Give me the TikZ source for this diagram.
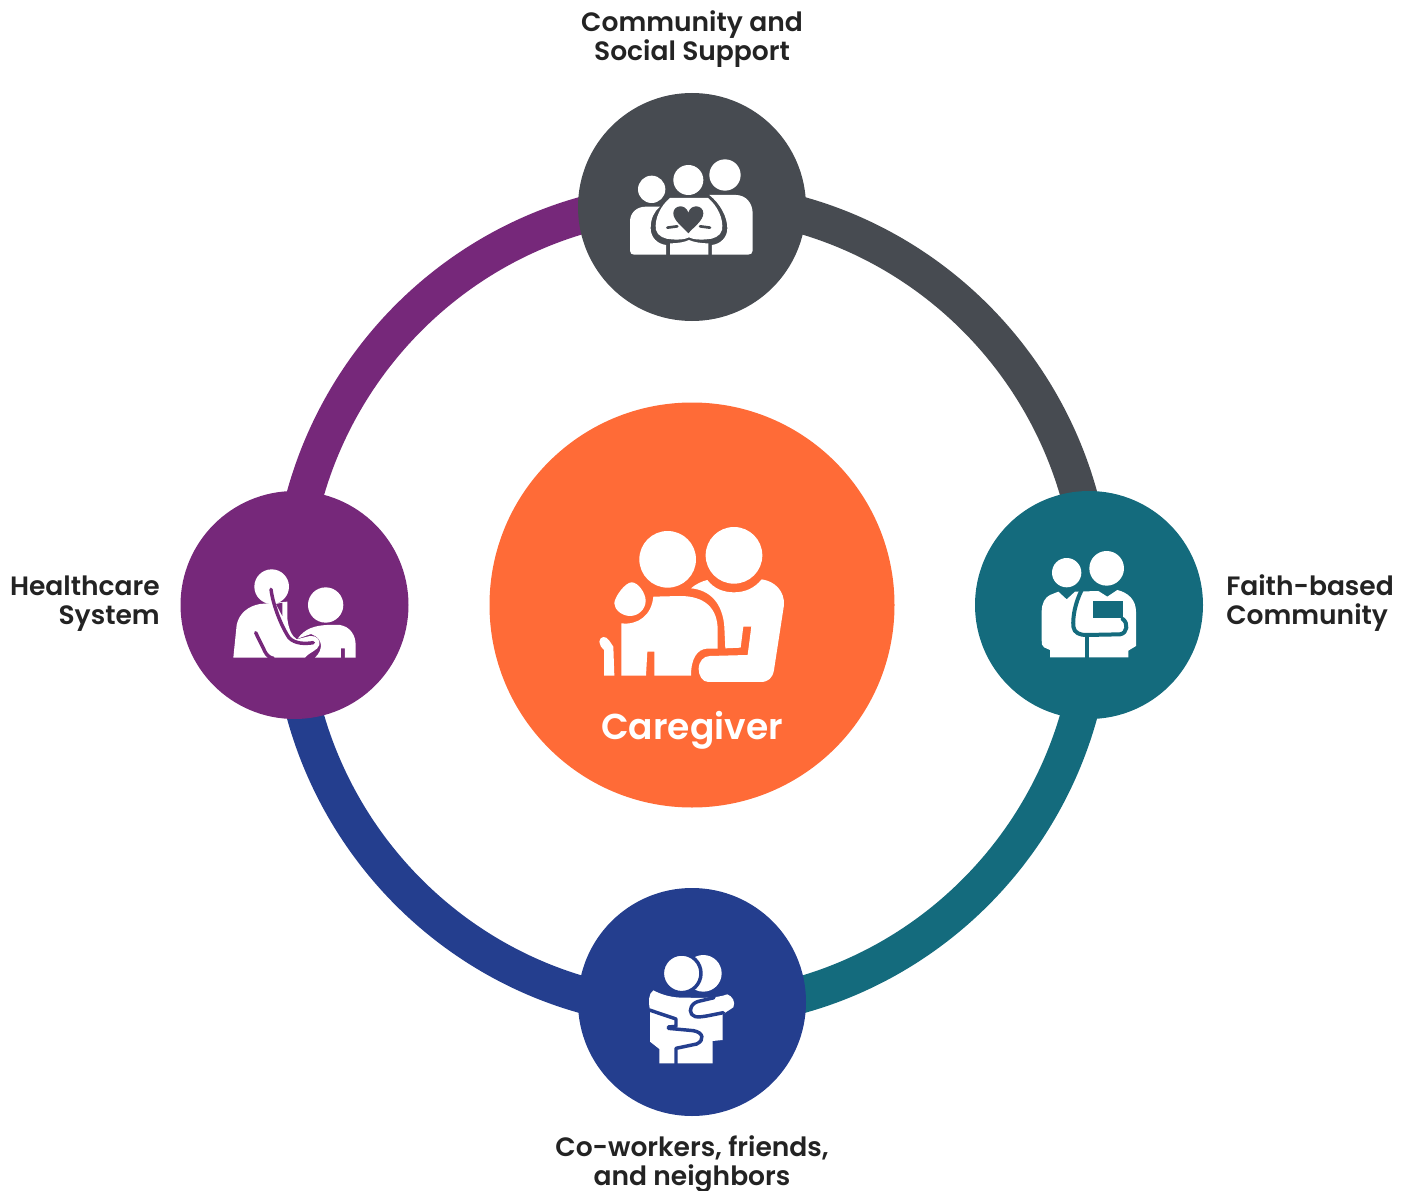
\documentclass[tikz,border=0pt]{standalone}
\usepackage{fontspec}
\setmainfont{Poppins}[BoldFont={Poppins SemiBold}]
\usepackage{tikz}
\usetikzlibrary{backgrounds}

\definecolor{cgorange}{RGB}{255,107,55}
\definecolor{ringgray}{RGB}{71,75,81}
\definecolor{ringteal}{RGB}{20,107,125}
\definecolor{ringblue}{RGB}{36,62,142}
\definecolor{ringpurple}{RGB}{118,40,122}
\definecolor{labelink}{RGB}{35,35,35}

\tikzset{
  hubnode/.style={circle,minimum size=171pt,inner sep=0pt},
  ringarc/.style={line width=27.5pt},
  iconfill/.style={fill=white,draw=none},
  iconcut/.style={line width=3pt,line cap=round,line join=round},
  sidelabel/.style={font=\fontsize{19.9}{21.75}\selectfont\bfseries,text=labelink,inner sep=0pt},
}

\begin{document}
\begin{tikzpicture}[x=0.75pt,y=0.75pt,yscale=-1,xscale=1]
        \useasboundingbox (0,0) rectangle (1406,1191);

        %Shape: Circle
        \node [circle,minimum size=303.75pt,inner sep=0pt,fill=cgorange] (caregiver) at (692,605) {};
        \node [hubnode,fill=ringgray] (community) at (692,207) {};
        \node [hubnode,fill=ringteal] (faith) at (1089,605) {};
        \node [hubnode,fill=ringblue] (coworkers) at (692,1002) {};
        \node [hubnode,fill=ringpurple] (healthcare) at (294.5,605) {};

        %Arcs
        \begin{scope}[on background layer]
        \draw [ringarc,color=ringgray] (caregiver.center) ++(0,-405) arc [start angle=-90,end angle=0,x radius=402,y radius=405];
        \draw [ringarc,color=ringteal] (caregiver.center) ++(402,0) arc [start angle=0,end angle=90,x radius=402,y radius=405];
        \draw [ringarc,color=ringblue] (caregiver.center) ++(0,405) arc [start angle=90,end angle=180,x radius=402,y radius=405];
        \draw [ringarc,color=ringpurple] (caregiver.center) ++(-402,0) arc [start angle=180,end angle=270,x radius=402,y radius=405];
        \end{scope}

        %Icon: two people, caregiver
        \begin{scope}[shift={(590,510)},scale=0.3333]
        \fill [iconfill] (233,148) circle [radius=85];
        \fill [iconfill] (432,136) circle [radius=85];
        \fill [iconfill] (303,235) .. controls (318,222) and (335,214) .. (352,210) .. controls (372,236) and (400,247) .. (432,247) .. controls (466,247) and (494,234) .. (515,208) .. controls (556,214) and (584,244) .. (582,285) -- (552,480) .. controls (548,504) and (535,516) .. (512,516) -- (355,516) .. controls (336,516) and (326,495) .. (326,477) .. controls (326,455) and (340,438) .. (360,438) -- (473,435) -- (484,350) -- (460,350) -- (452,413) -- (406,415) -- (403,350) .. controls (398,280) and (360,240) .. (303,235) -- cycle;
        \fill [iconfill] (94,340) .. controls (145,346) and (185,315) .. (190,260) -- (270,258) .. controls (345,258) and (383,295) .. (383,360) -- (383,416) -- (350,416) .. controls (322,418) and (303,445) .. (303,497) -- (193,497) -- (193,425) -- (172,425) -- (168,497) -- (94,497) -- cycle;
        \fill [iconfill] (125,217) .. controls (145,217) and (167,250) .. (167,272) .. controls (167,298) and (145,318) .. (120,318) .. controls (95,318) and (73,298) .. (73,280) .. controls (73,262) and (105,217) .. (125,217) -- cycle;
        \fill [iconfill] (28,395) .. controls (30,378) and (48,376) .. (58,392) -- (70,410) -- (73,497) -- (42,497) -- (42,420) .. controls (34,412) and (28,405) .. (28,395) -- cycle;
        \end{scope}

        %Icon: family with heart
        \begin{scope}[shift={(620,150)},scale=0.3333]
        \fill [iconfill] (95,118) circle [radius=41];
        \fill [iconfill] (205,90) circle [radius=45];
        \fill [iconfill] (315,75) circle [radius=47];
        \fill [iconfill] (30,302) -- (30,215) .. controls (30,188) and (50,170) .. (78,170) -- (120,170) .. controls (102,185) and (92,205) .. (92,235) .. controls (92,262) and (112,282) .. (138,285) -- (138,314) -- (42,314) .. controls (35,314) and (30,310) .. (30,302) -- cycle;
        \fill [iconfill] (268,135) -- (348,135) .. controls (378,135) and (398,160) .. (398,190) -- (398,302) .. controls (398,310) and (392,314) .. (384,314) -- (276,314) -- (276,285) .. controls (302,282) and (322,262) .. (322,235) .. controls (322,200) and (300,160) .. (268,135) -- cycle;
        \fill [iconfill] (150,144) -- (264,144) .. controls (290,165) and (312,205) .. (306,240) .. controls (302,258) and (280,268) .. (259,268) .. controls (235,270) and (219,268) .. (207,262) .. controls (195,268) and (179,270) .. (155,268) .. controls (135,268) and (112,258) .. (108,240) .. controls (102,205) and (124,165) .. (150,144) -- cycle;
        \fill [iconfill] (150,280) .. controls (175,280) and (195,276) .. (207,270) .. controls (220,276) and (240,280) .. (265,280) -- (265,314) -- (150,314) -- cycle;
        \fill [fill=ringgray] (205,250) .. controls (190,232) and (160,212) .. (160,190) .. controls (160,165) and (197,160) .. (205,188) .. controls (213,160) and (250,165) .. (250,190) .. controls (250,212) and (220,232) .. (205,250) -- cycle;
        \draw [iconcut,ringgray,line width=2pt] (142,233) -- (172,229);
        \draw [iconcut,ringgray,line width=2pt] (240,229) -- (270,233);
        \end{scope}

        %Icon: two people with book
        \begin{scope}[shift={(1030,540)},scale=0.3333]
        \fill [iconfill] (110,98) circle [radius=44];
        \fill [iconfill] (230,85) circle [radius=52];
        \fill [iconfill] (60,165) -- (85,155) -- (110,178) -- (135,155) -- (205,153) -- (232,170) -- (262,150) .. controls (295,158) and (318,180) .. (318,215) -- (318,318) -- (295,332) -- (295,352) -- (60,352) -- (60,330) -- (42,322) .. controls (35,318) and (35,310) .. (35,300) -- (35,215) .. controls (35,190) and (45,172) .. (60,165) -- cycle;
        \draw [iconcut,ringteal] (155,150) .. controls (135,190) and (128,230) .. (130,260) .. controls (132,278) and (150,286) .. (170,285) -- (270,283) .. controls (292,280) and (296,250) .. (278,237);
        \draw [iconcut,ringteal,line cap=butt] (170,285) -- (170,354);
        \fill [fill=ringteal] (190,183) rectangle (278,235);
        \end{scope}

        %Icon: two people hugging
        \begin{scope}[shift={(640,945)},scale=0.3333]
        \fill [iconfill] (190,85) circle [radius=55];
        \fill [iconfill] (40,136) .. controls (70,152) and (100,158) .. (130,158) .. controls (170,158) and (225,162) .. (262,148) .. controls (276,153) and (288,170) .. (280,187) -- (248,208) -- (248,285) -- (218,288) -- (218,355) -- (58,355) -- (58,312) -- (30,290) -- (30,195) .. controls (25,170) and (25,146) .. (40,136) -- cycle;
        \draw [iconcut,ringblue,line width=2.6pt] (222,158) -- (180,168) .. controls (155,172) and (145,195) .. (155,208) .. controls (165,222) and (190,215) .. (250,203);
        \draw [iconcut,ringblue,line width=2.6pt] (28,195) -- (108,222) -- (108,244) -- (85,246);
        \draw [iconcut,ringblue,line width=2.6pt] (85,250) -- (160,257) .. controls (190,262) and (195,285) .. (170,297) -- (108,310) -- (108,357);
        \draw [line width=2.6pt,ringblue,fill=white] (125,85) circle [radius=58];
        \end{scope}

        %Icon: doctor and patient
        \begin{scope}[shift={(225,560)},scale=0.3333]
        \fill [iconfill] (140,80) circle [radius=52];
        \fill [iconfill] (302,135) circle [radius=53];
        \fill [iconfill] (25,293) -- (35,195) .. controls (42,160) and (70,138) .. (105,132) -- (187,125) -- (187,175) .. controls (190,205) and (200,228) .. (215,238) -- (255,228) .. controls (275,226) and (287,240) .. (283,255) .. controls (278,272) and (255,275) .. (240,293) -- cycle;
        \fill [iconfill] (218,236) .. controls (240,205) and (270,197) .. (305,195) -- (345,195) .. controls (375,200) and (392,225) .. (392,255) -- (392,293) -- (360,293) -- (360,265) -- (348,265) -- (348,293) -- (270,293) .. controls (295,270) and (296,235) .. (258,222) -- cycle;
        \fill [fill=ringpurple] (153,132) -- (172,128) -- (172,168) -- cycle;
        \draw [iconcut,ringpurple,line width=2.6pt] (138,88) .. controls (145,140) and (170,200) .. (192,233) .. controls (210,252) and (240,252) .. (265,248);
        \draw [iconcut,ringpurple,line width=2.6pt] (92,218) -- (120,275) .. controls (126,287) and (134,293) .. (145,295);
        \end{scope}

        % Text Node
        \node [sidelabel,align=center] (communitytext) at (692,39) {Community and\\Social Support};
        % Text Node
        \node [sidelabel,align=left,anchor=west] (faithtext) at (1226,603.5) {Faith-based\\Community};
        % Text Node
        \node [sidelabel,align=center] (coworkerstext) at (692,1164) {Co-workers, friends,\\and neighbors};
        % Text Node
        \node [sidelabel,align=right,anchor=east] (healthcaretext) at (160,603.5) {Healthcare\\System};
        % Text Node
        \node [font=\fontsize{27}{30}\selectfont\bfseries,text=white,inner sep=0pt] (caregivertext) at (692,730) {Caregiver};
\end{tikzpicture}
\end{document}
